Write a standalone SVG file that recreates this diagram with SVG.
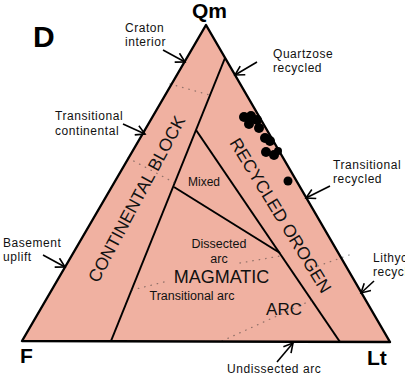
<svg xmlns="http://www.w3.org/2000/svg" width="405" height="378" viewBox="0 0 405 378">
<defs>
<style>
.lbl{font-family:"Liberation Sans",Arial,sans-serif;font-size:12px;letter-spacing:0.55px;fill:#111}
.big{font-family:"Liberation Sans",Arial,sans-serif;font-weight:bold;fill:#000}
.field{font-family:"Liberation Sans",Arial,sans-serif;fill:#111}
.edge{fill:none;stroke:#000;stroke-width:2.4;stroke-linejoin:round}
.inner{fill:none;stroke:#000;stroke-width:2}
.dot{fill:none;stroke:#333;stroke-width:1.3;stroke-dasharray:0.5 6;stroke-linecap:round;opacity:0.5}
.arr{fill:none;stroke:#000;stroke-width:1.6;marker-end:url(#ah)}
.pt{fill:#000}
</style>
<marker id="ah" markerUnits="userSpaceOnUse" markerWidth="12" markerHeight="12" refX="10" refY="6" orient="auto">
<path d="M1,1 L10,6 L1,11" fill="none" stroke="#000" stroke-width="1.6"/>
</marker>
</defs>
<rect width="405" height="378" fill="#fff"/>
<g id="triangle">
<polygon points="206,25 22,341 390,342" fill="#f0b1a1" stroke="none"/>
</g>
<g id="boundaries">
<line class="inner" x1="225" y1="58" x2="111" y2="341"/>
<line class="inner" x1="196" y1="130" x2="340" y2="342"/>
<line class="inner" x1="174" y1="187" x2="280" y2="253"/>
<path class="dot" d="M170,84 L213,96"/>
<path class="dot" d="M128,158 L175,183"/>
<path class="dot" d="M132,290 L168,281"/>
<path class="dot" d="M240,263 L280,256"/>
<path class="dot" d="M222,341 L312,300"/>
<path class="dot" d="M318,266 L352,254"/>
<polygon class="edge" points="206,25 22,341 390,342"/>
</g>
<g id="data-points">
<circle class="pt" cx="244" cy="117" r="5"/>
<circle class="pt" cx="251" cy="116" r="5"/>
<circle class="pt" cx="257" cy="120" r="5"/>
<circle class="pt" cx="249" cy="124" r="5"/>
<circle class="pt" cx="259" cy="128" r="5"/>
<circle class="pt" cx="265" cy="138" r="5"/>
<circle class="pt" cx="270" cy="141" r="5"/>
<circle class="pt" cx="266" cy="152" r="5"/>
<circle class="pt" cx="274" cy="155" r="5"/>
<circle class="pt" cx="278" cy="151" r="4"/>
<circle class="pt" cx="288" cy="181" r="4.5"/>
</g>
<g id="field-labels">
<text class="field" font-size="17.5" transform="translate(136.5,199) rotate(-61.8)" text-anchor="middle" dominant-baseline="central">CONTINENTAL BLOCK</text>
<text class="field" font-size="17.5" transform="translate(280.5,215.5) rotate(58.5)" text-anchor="middle" dominant-baseline="central">RECYCLED OROGEN</text>
<text class="field" font-size="12" x="204" y="186" text-anchor="middle">Mixed</text>
<text class="field" font-size="12.5" x="219" y="248" text-anchor="middle">Dissected</text>
<text class="field" font-size="12.5" x="219" y="263" text-anchor="middle">arc</text>
<text class="field" font-size="18" x="221.5" y="283" text-anchor="middle">MAGMATIC</text>
<text class="field" font-size="12.5" x="192" y="300" text-anchor="middle">Transitional arc</text>
<text class="field" font-size="17" x="284" y="315" text-anchor="middle">ARC</text>
</g>
<g id="connectors">
<line class="arr" x1="163" y1="50" x2="185" y2="62"/>
<line class="arr" x1="123" y1="124" x2="145" y2="134"/>
<line class="arr" x1="43" y1="255" x2="65" y2="267"/>
<line class="arr" x1="257" y1="62" x2="235" y2="75"/>
<line class="arr" x1="330" y1="186" x2="306" y2="198"/>
<line class="arr" x1="374" y1="281" x2="361" y2="293"/>
<line class="arr" x1="277" y1="362" x2="293" y2="343"/>
</g>
<g id="corner-labels">
<text class="big" font-size="30" x="33" y="47">D</text>
<text class="big" font-size="21" x="192" y="18">Qm</text>
<text class="big" font-size="21" x="20" y="363">F</text>
<text class="big" font-size="21" x="367" y="365">Lt</text>
</g>
<g id="provenance-labels">
<text class="lbl" x="125" y="32">Craton</text>
<text class="lbl" x="125" y="46">interior</text>
<text class="lbl" x="273" y="58">Quartzose</text>
<text class="lbl" x="273" y="72">recycled</text>
<text class="lbl" x="55" y="120">Transitional</text>
<text class="lbl" x="55" y="135">continental</text>
<text class="lbl" x="333" y="169">Transitional</text>
<text class="lbl" x="333" y="183">recycled</text>
<text class="lbl" x="3" y="247">Basement</text>
<text class="lbl" x="3" y="261">uplift</text>
<text class="lbl" x="373" y="262">Lithyc</text>
<text class="lbl" x="373" y="276">recycled</text>
<text class="lbl" x="227" y="373">Undissected arc</text>
</g>
</svg>
